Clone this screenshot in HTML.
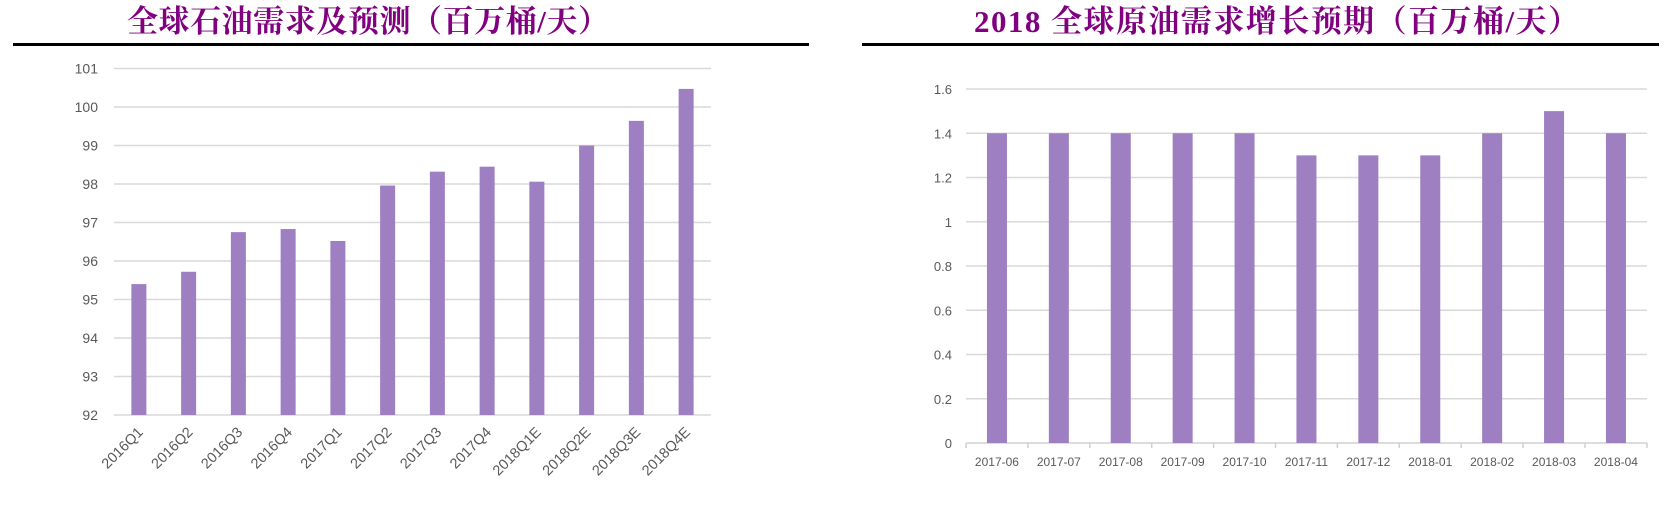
<!DOCTYPE html>
<html><head><meta charset="utf-8"><style>
body{margin:0;background:#fff;width:1675px;height:510px;overflow:hidden}
svg{display:block}
.t{font-family:"Liberation Serif","Noto Serif CJK SC",serif;font-weight:bold;fill:#800080}
.a{font-family:"Liberation Sans","Noto Sans CJK SC",sans-serif;fill:#595959}
</style></head><body>
<svg width="1675" height="510" viewBox="0 0 1675 510" xmlns="http://www.w3.org/2000/svg">
<text class="t" x="127" y="32" font-size="31" textLength="482" lengthAdjust="spacing">全球石油需求及预测（百万桶/天）</text>
<text class="t" x="974" y="32" font-size="31" textLength="605" lengthAdjust="spacing">2018 全球原油需求增长预期（百万桶/天）</text>
<rect x="13" y="43" width="796" height="3" fill="#000"/>
<rect x="862" y="43" width="797" height="3" fill="#000"/>
<g id="L"></g>
<g id="R"></g>
</svg>
<script>
var ns="http://www.w3.org/2000/svg";
function el(p,t,a,txt){var e=document.createElementNS(ns,t);for(var k in a)e.setAttribute(k,a[k]);if(txt!=null)e.textContent=txt;p.appendChild(e);return e;}
var L=document.getElementById('L'),R=document.getElementById('R');
for(var v=92;v<=101;v++){var y=415-(v-92)*38.5;
el(L,'line',{x1:114,x2:711,y1:y,y2:y,stroke:'#d9d9d9','stroke-width':1.5});
el(L,'text',{x:98,y:y+5,'font-size':14,'text-anchor':'end','class':'a'},v);}
var lv=[95.4,95.72,96.75,96.83,96.52,97.96,98.32,98.45,98.06,99,99.64,100.47];
var ll=['2016Q1','2016Q2','2016Q3','2016Q4','2017Q1','2017Q2','2017Q3','2017Q4','2018Q1E','2018Q2E','2018Q3E','2018Q4E'];
for(var i=0;i<12;i++){var cx=114+49.75*(i+0.5),y=415-(lv[i]-92)*38.5;
el(L,'rect',{x:cx-7.5,y:y,width:15,height:415-y,fill:'#9e7fc2'});
el(L,'text',{x:cx+5,y:433,'font-size':14.5,'text-anchor':'end','class':'a',transform:'rotate(-45 '+(cx+5)+' 433)'},ll[i]);}
var yl=['0','0.2','0.4','0.6','0.8','1','1.2','1.4','1.6'];
for(var j=0;j<9;j++){var y=443-j*44.25;
if(j>0)el(R,'line',{x1:966,x2:1647,y1:y,y2:y,stroke:'#d9d9d9','stroke-width':1.5});
el(R,'text',{x:952,y:y+5,'font-size':13,'text-anchor':'end','class':'a'},yl[j]);}
el(R,'line',{x1:966,x2:1647,y1:443,y2:443,stroke:'#d0d0d0','stroke-width':1.5});
var rv=[1.4,1.4,1.4,1.4,1.4,1.3,1.3,1.3,1.4,1.5,1.4];
var rl=['2017-06','2017-07','2017-08','2017-09','2017-10','2017-11','2017-12','2018-01','2018-02','2018-03','2018-04'];
for(var i=0;i<11;i++){var x0=966+61.9*i,cx=x0+30.95,y=443-rv[i]/0.2*44.25;
el(R,'line',{x1:x0,x2:x0,y1:443,y2:448,stroke:'#d0d0d0','stroke-width':1.5});
el(R,'rect',{x:cx-10,y:y,width:20,height:443-y,fill:'#9e7fc2'});
el(R,'text',{x:cx,y:466,'font-size':12,'text-anchor':'middle','class':'a'},rl[i]);}
el(R,'line',{x1:1647,x2:1647,y1:443,y2:448,stroke:'#d0d0d0','stroke-width':1.5});
</script>
</body></html>
